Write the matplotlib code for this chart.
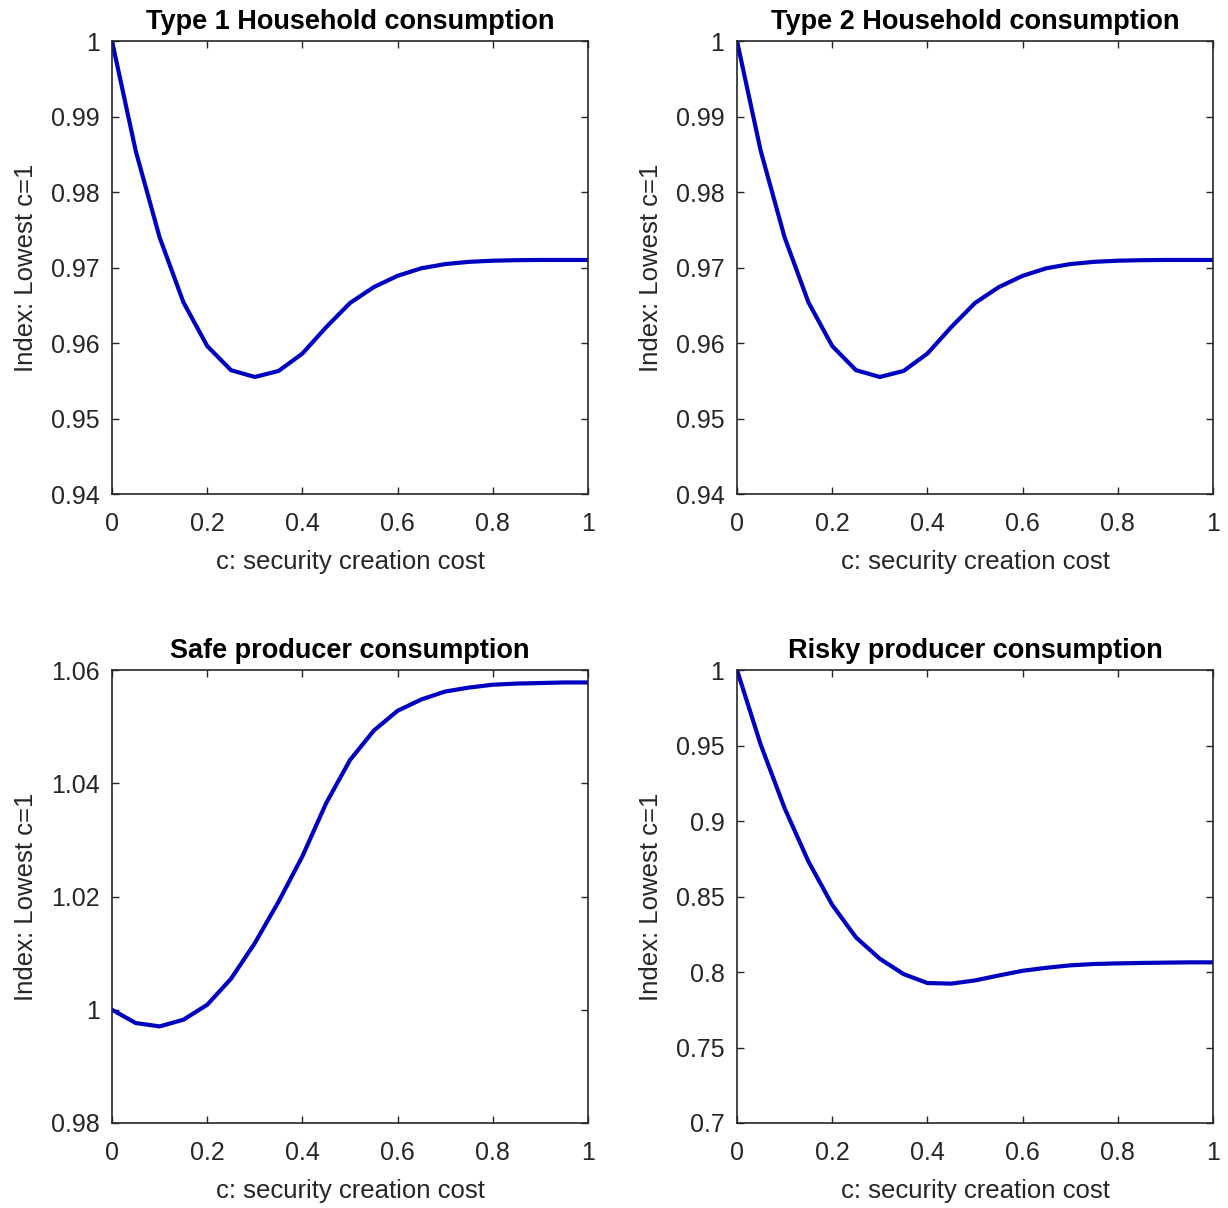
import numpy as np
import matplotlib
matplotlib.use('Agg')
import matplotlib.pyplot as plt
from matplotlib.ticker import FuncFormatter

plt.rcParams['font.family'] = ['Liberation Sans', 'DejaVu Sans']

# security creation cost grid
c = [0.00, 0.05, 0.10, 0.15, 0.20, 0.25, 0.30, 0.35, 0.40, 0.45, 0.50,
     0.55, 0.60, 0.65, 0.70, 0.75, 0.80, 0.85, 0.90, 0.95, 1.00]

# consumption indices (lowest c = 1)
hh_type1 = [1.0000, 0.9854, 0.9740, 0.9654, 0.9596, 0.9564, 0.9555, 0.9563,
            0.9586, 0.9621, 0.9653, 0.9674, 0.9689, 0.9699, 0.97045, 0.97075,
            0.9709, 0.97097, 0.9710, 0.9710, 0.9710]
hh_type2 = [1.0000, 0.9854, 0.9740, 0.9654, 0.9596, 0.9564, 0.9555, 0.9563,
            0.9586, 0.9621, 0.9653, 0.9674, 0.9689, 0.9699, 0.97045, 0.97075,
            0.9709, 0.97097, 0.9710, 0.9710, 0.9710]
safe_prod = [1.0000, 0.99765, 0.99706, 0.99824, 1.00088, 1.00547, 1.01176,
             1.0191, 1.0271, 1.0365, 1.0441, 1.0493, 1.0528, 1.0548, 1.0562,
             1.0569, 1.0574, 1.0576, 1.0577, 1.0578, 1.0578]
risky_prod = [1.0000, 0.9504, 0.9085, 0.8732, 0.8445, 0.8229, 0.8088, 0.7986,
              0.7927, 0.7923, 0.7944, 0.7977, 0.8008, 0.8028, 0.8044, 0.8053,
              0.8057, 0.8060, 0.8062, 0.8064, 0.8064]

titles = ['Type 1 Household consumption', 'Type 2 Household consumption',
          'Safe producer consumption', 'Risky producer consumption']
series = [hh_type1, hh_type2, safe_prod, risky_prod]
ylims = [(0.94, 1.0), (0.94, 1.0), (0.98, 1.06), (0.7, 1.0)]
yticks = [np.arange(0.94, 1.001, 0.01), np.arange(0.94, 1.001, 0.01),
          np.arange(0.98, 1.061, 0.02), np.arange(0.70, 1.001, 0.05)]

fig = plt.figure(figsize=(12.28, 12.08), dpi=100)
W, H = 1228, 1208
lefts = [112, 737, 112, 737]
tops = [41, 41, 670, 670]
aw, ah = 476, 453

fmt = FuncFormatter(lambda v, p: '{:g}'.format(round(v, 4)))
dark = '#262626'

for i in range(4):
    ax = fig.add_axes([lefts[i] / W, 1 - (tops[i] + ah) / H, aw / W, ah / H])
    ax.plot(c, series[i], color='#0000C0', lw=3, solid_joinstyle='miter')
    ax.set_xlim(0, 1)
    ax.set_ylim(*ylims[i])
    ax.set_xticks(np.arange(0, 1.01, 0.2))
    ax.set_yticks(yticks[i])
    ax.xaxis.set_major_formatter(fmt)
    ax.yaxis.set_major_formatter(fmt)
    ax.tick_params(direction='in', top=True, right=True, length=5, width=1,
                   colors=dark, labelsize=18)
    ax.tick_params(axis='x', pad=13)
    ax.tick_params(axis='y', pad=9)
    for s in ax.spines.values():
        s.set_color(dark)
        s.set_linewidth(1.2)
    ax.set_title(titles[i], fontsize=19.5, fontweight='bold', pad=8.5)
    ax.set_xlabel('c: security creation cost', fontsize=18.5, color=dark, labelpad=10)
    ax.set_ylabel('Index: Lowest c=1', fontsize=18.5, color=dark, labelpad=9)

fig.savefig('out.png', dpi=100)
